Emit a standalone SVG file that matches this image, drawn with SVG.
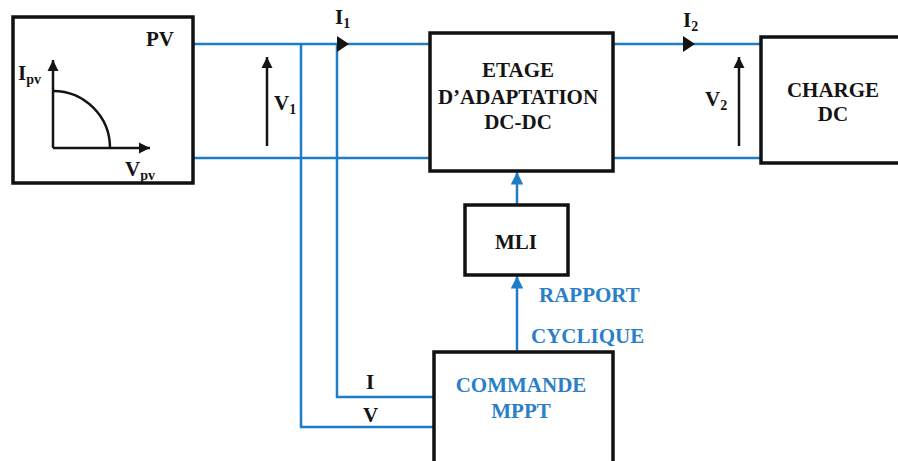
<svg xmlns="http://www.w3.org/2000/svg" width="898" height="461" viewBox="0 0 898 461">
<style>
.box{fill:#fff;stroke:#111;stroke-width:3.5}
.w{fill:none;stroke:#1f7cc6;stroke-width:2.5}
.t{font-family:'Liberation Serif','Times New Roman','DejaVu Serif',serif;font-weight:700;font-size:21px;fill:#141414}
.b{fill:#2a80c8}
.s{font-size:14px}
.ax{fill:none;stroke:#141414;stroke-width:2.5}
</style>
<defs>
<marker id="ab" viewBox="0 0 10 10" refX="10" refY="5" markerWidth="5" markerHeight="5" orient="auto" markerUnits="strokeWidth"><path d="M0,0L10,5L0,10z" fill="#1f7cc6"/></marker>
<marker id="ak" viewBox="0 0 10 10" refX="10" refY="5" markerWidth="4.5" markerHeight="4.5" orient="auto" markerUnits="strokeWidth"><path d="M0,0L10,5L0,10z" fill="#141414"/></marker>
</defs>
<g id="connectors">
<path class="w" d="M193,44H430M193,158H430M613,44H761M613,158H761"/>
<path class="w" d="M301,44V427H434M337,44V397H434"/>
<path class="w" d="M517,352V276" marker-end="url(#ab)"/>
<path class="w" d="M517,205V172" marker-end="url(#ab)"/>
<path d="M337,36L349,44L337,52z" fill="#141414"/>
<path d="M683,36L695,44L683,52z" fill="#141414"/>
<path class="ax" d="M267,146V57" marker-end="url(#ak)"/>
<path class="ax" d="M739,146V57" marker-end="url(#ak)"/>
<text class="t" x="335" y="24">I<tspan class="s" dy="4">1</tspan></text>
<text class="t" x="683" y="27">I<tspan class="s" dy="4">2</tspan></text>
<text class="t" x="274" y="110">V<tspan class="s" dy="4">1</tspan></text>
<text class="t" x="705" y="106">V<tspan class="s" dy="4">2</tspan></text>
<text class="t" x="366" y="389">I</text>
<text class="t" x="363" y="422">V</text>
<text class="t b" x="539" y="302">RAPPORT</text>
<text class="t b" x="531" y="343">CYCLIQUE</text>
</g>
<g id="pv">
<rect class="box" x="13" y="17" width="180" height="166"/>
<text class="t" x="146" y="46">PV</text>
<path class="ax" d="M53,148V60" marker-end="url(#ak)"/>
<path class="ax" d="M53,148H150" marker-end="url(#ak)"/>
<path class="ax" d="M53,91A57,57 0 0 1 110,148"/>
<text class="t" x="18" y="80">I<tspan class="s" dy="4">pv</tspan></text>
<text class="t" x="125" y="176">V<tspan class="s" dy="4">pv</tspan></text>
</g>
<g id="etage">
<rect class="box" x="430" y="33" width="183" height="138"/>
<text class="t" text-anchor="middle" x="518" y="77">ETAGE</text>
<text class="t" text-anchor="middle" x="518" y="104">D’ADAPTATION</text>
<text class="t" text-anchor="middle" x="518" y="129">DC-DC</text>
</g>
<g id="charge">
<rect class="box" x="761" y="37" width="140" height="126"/>
<text class="t" text-anchor="middle" x="833" y="97">CHARGE</text>
<text class="t" text-anchor="middle" x="833" y="121">DC</text>
</g>
<g id="mli">
<rect class="box" x="465" y="205" width="103" height="70"/>
<text class="t" text-anchor="middle" x="516" y="249">MLI</text>
</g>
<g id="mppt">
<rect class="box" x="434" y="352" width="179" height="112"/>
<text class="t b" text-anchor="middle" x="521" y="392">COMMANDE</text>
<text class="t b" text-anchor="middle" x="521" y="418">MPPT</text>
</g>
</svg>
